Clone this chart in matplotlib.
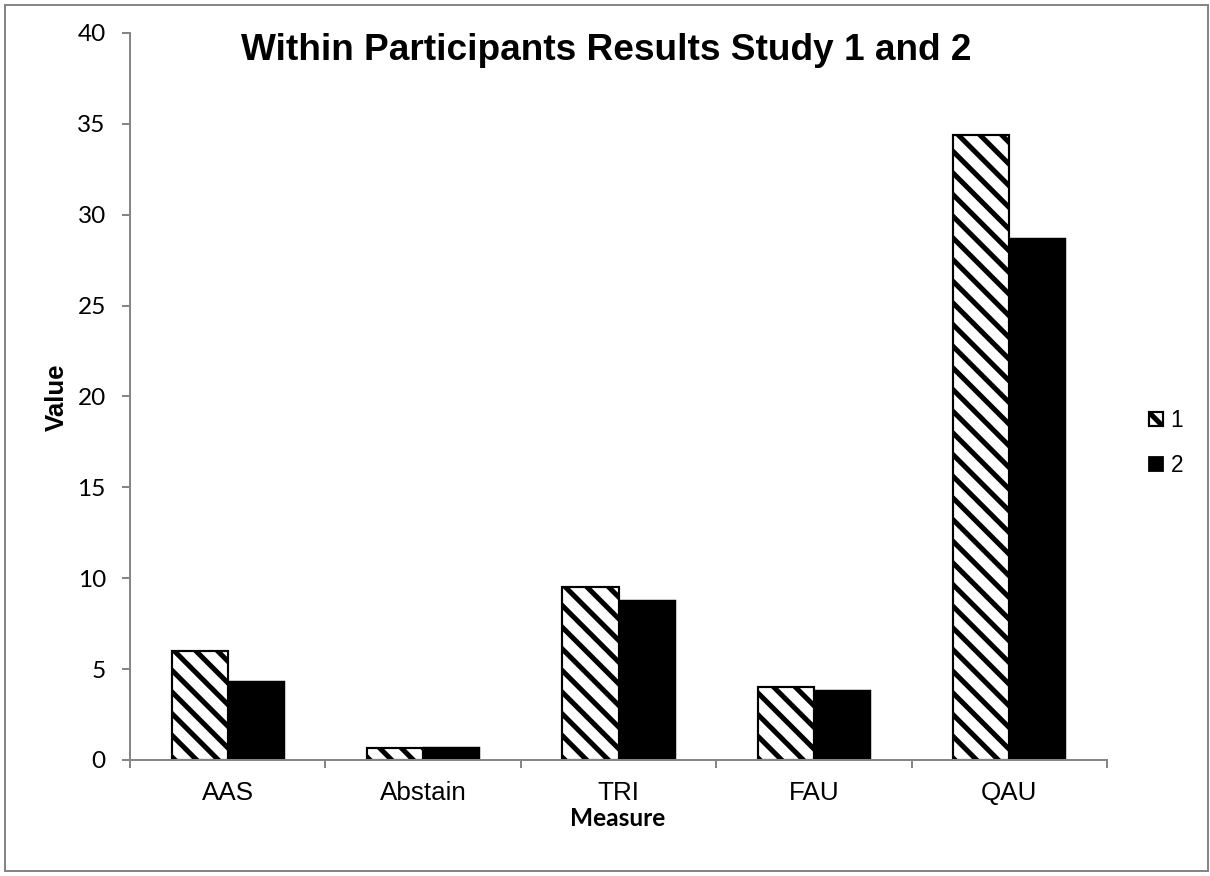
import matplotlib
matplotlib.use("Agg")
import matplotlib.pyplot as plt
import numpy as np
from matplotlib.patches import Rectangle, Patch

categories = ["AAS", "Abstain", "TRI", "FAU", "QAU"]
series_names = ["1", "2"]
study1 = [6.0, 0.65, 9.5, 4.0, 34.4]
study2 = [4.35, 0.73, 8.8, 3.85, 28.7]
yticks = [0, 5, 10, 15, 20, 25, 30, 35, 40]

DPI = 130
W, H = 1210, 876
plt.rcParams['hatch.linewidth'] = 2.8
plt.rcParams['hatch.color'] = 'black'

fig = plt.figure(figsize=(W / DPI, H / DPI), dpi=DPI)
ax = fig.add_axes([130 / W, 1 - 760 / H, (1107 - 130) / W, (760 - 33) / H])

gray = '#868686'
HATCH = '\\\\'
x = np.arange(len(categories))
bw = 0.2866
ax.bar(x - bw / 2, study1, width=bw, color='white', edgecolor='black',
       hatch=HATCH, linewidth=1.2, zorder=2)
ax.bar(x + bw / 2, study2, width=bw, color='black', edgecolor='black',
       linewidth=0.8, zorder=2)

ax.set_xlim(-0.5, len(categories) - 0.5)
ax.set_ylim(0, 40)
ax.set_yticks(yticks)
ax.set_yticklabels([str(v) for v in yticks], fontfamily='Lato', fontsize=13.5)

ax.set_xticks(x)
ax.set_xticklabels(categories, fontfamily='Liberation Sans', fontsize=14.4)
ax.set_xticks(np.arange(-0.5, len(categories)), minor=True)
ax.tick_params(axis='x', which='major', length=0, pad=11.5)
ax.tick_params(axis='x', which='minor', length=4.4, width=1.1, color=gray, direction='out')
ax.tick_params(axis='y', length=4.4, width=1.1, color=gray, direction='out', pad=9)

for s in ['top', 'right']:
    ax.spines[s].set_visible(False)
for s in ['left', 'bottom']:
    ax.spines[s].set_color(gray)
    ax.spines[s].set_linewidth(1.1)

fig.text(57 / W, 1 - 397 / H, "Value", rotation=90, ha='center', va='center',
         fontfamily='Liberation Sans', fontweight='bold', fontsize=14.3)
fig.text(618 / W, 1 - 818 / H, "Measure", ha='center', va='center',
         fontfamily='Lato', fontweight='bold', fontsize=13.5)
fig.text(606 / W, 1 - 51 / H, "Within Participants Results Study 1 and 2",
         ha='center', va='center', fontfamily='Liberation Sans',
         fontweight='bold', fontsize=20.5)

handles = [Patch(facecolor='white', edgecolor='black', hatch=HATCH, linewidth=1.2),
           Patch(facecolor='black', edgecolor='black')]
fig.legend(handles, series_names, loc='center left',
           bbox_to_anchor=(1149 / W, 1 - 443 / H), frameon=False,
           prop={'family': 'Liberation Sans', 'size': 12.5},
           handlelength=0.6, handleheight=0.6, handletextpad=0.35,
           labelspacing=1.0, borderpad=0, borderaxespad=0)

fig.patches.append(Rectangle((5 / W, 5 / H), 1203 / W, 866 / H,
                             transform=fig.transFigure, fill=False,
                             edgecolor=gray, linewidth=1.1))

fig.savefig("out.png", dpi=DPI)
